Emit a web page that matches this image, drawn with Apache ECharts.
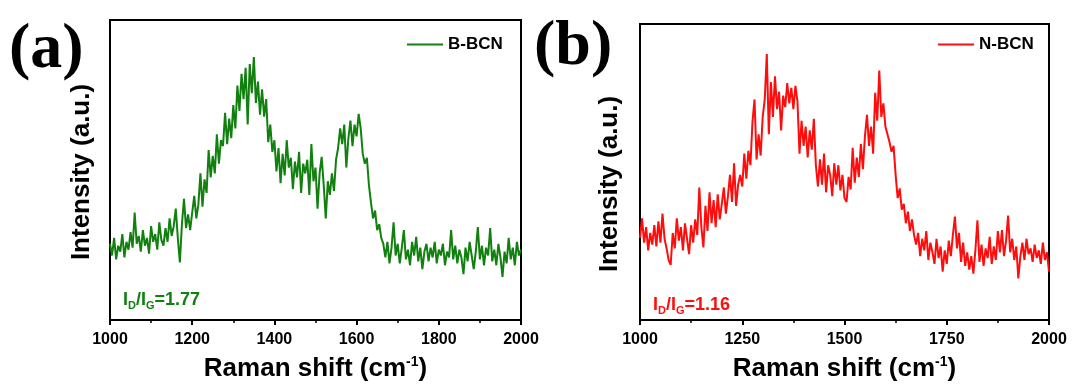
<!DOCTYPE html>
<html>
<head>
<meta charset="utf-8">
<script src="https://cdn.jsdelivr.net/npm/echarts@6/dist/echarts.min.js"></script>
<style>
html,body{margin:0;padding:0;background:#fff;}
#chart{width:1073px;height:387px;}
</style>
</head>
<body>
<div id="chart"></div>
<script>
// ---- data (Raman shift grid: 1000..2000 cm-1, 5 cm-1 step) ----
const shiftStart = 1000;
const shiftStep = 5;
const seriesNames = ['B-BCN', 'N-BCN'];
const panelLabels = ['(a)', '(b)'];
const ratioLabels = ['1.77', '1.16'];
const xMin = 1000, xMax = 2000;
const leftInterval = 200, rightInterval = 250;

// intensity (a.u.)
const bbcnIntensity = [
  78,66,84,62,76,70,88,64,80,72,
  90,74,110,78,86,70,92,76,84,68,
  96,80,88,72,100,82,76,94,80,104,
  86,96,114,84,59,98,124,94,108,92,
  110,127,104,118,150,116,144,130,174,146,
  168,150,190,160,184,178,212,180,206,186,
  220,196,240,214,252,226,258,200,262,232,
  269,222,244,210,236,208,226,182,200,172,
  184,152,176,140,170,148,184,156,166,134,
  162,146,172,130,160,150,164,128,180,142,
  156,114,150,167,138,104,142,128,150,132,
  164,176,196,180,200,156,186,204,178,200,
  188,211,196,170,160,166,138,120,104,112,
  92,98,84,78,64,80,58,74,100,66,
  78,58,74,92,62,72,56,80,66,85,
  60,74,52,70,78,60,74,64,80,58,
  72,66,78,56,70,64,92,62,76,58,
  72,64,47,74,60,80,66,52,70,95,
  62,76,56,74,66,94,60,72,56,78,
  64,44,70,58,84,62,74,56,80,66,
  72
];

// intensity (a.u.)
const nbcnIntensity = [
  85,105,80,96,72,90,78,98,76,102,
  80,110,84,74,62,57,90,74,105,82,
  96,72,100,84,68,98,80,104,88,137,
  96,75,118,92,132,100,124,96,130,104,
  120,137,110,128,150,122,162,118,140,150,
  138,172,146,175,160,205,228,166,192,170,
  210,228,275,192,246,210,252,218,236,196,
  232,220,245,224,240,218,242,226,172,206,
  180,200,168,196,176,208,160,138,166,140,
  172,132,160,150,128,162,140,160,134,150,
  126,122,148,135,178,142,168,148,182,156,
  190,212,180,200,172,235,206,258,210,224,
  200,192,184,174,180,150,126,136,114,120,
  100,112,92,104,88,78,90,66,84,72,
  92,62,80,70,58,84,64,76,50,72,
  58,82,66,88,107,74,90,60,80,56,
  70,52,66,48,72,103,60,78,56,74,
  64,86,58,76,62,92,70,93,66,82,
  108,70,84,62,76,43,66,80,62,84,
  68,74,60,78,64,72,58,80,62,70,
  50
];

function toPairs(vals) {
  return vals.map((v, i) => [shiftStart + i * shiftStep, v]);
}

const GREEN = '#11800f';
const RED = '#ff0d0d';
const SANS = '"Liberation Sans", Arial, Helvetica, sans-serif';
const SERIF = '"Liberation Serif", "Times New Roman", serif';

const chart = echarts.init(document.getElementById('chart'), null, {renderer: 'canvas'});

function xAxisFor(gridIndex, interval) {
  return {
    type: 'value', gridIndex: gridIndex, min: xMin, max: xMax, interval: interval,
    axisLine: {show: true, lineStyle: {color: '#000', width: 2}},
    axisTick: {show: true, inside: false, length: 5, lineStyle: {color: '#000', width: 2}},
    minorTick: {show: true, splitNumber: 2, length: 3, lineStyle: {color: '#000', width: 1.5}},
    splitLine: {show: false},
    axisLabel: {color: '#000', fontFamily: SANS, fontWeight: 'bold', fontSize: 16, margin: 12,
                formatter: function (v) { return String(v); }},
    name: '{m|Raman shift (cm}{s|-1}{m|)}',
    nameLocation: 'middle', nameGap: 35,
    nameTextStyle: {
      rich: {
        m: {fontFamily: SANS, fontWeight: 'bold', fontSize: 26, color: '#000', lineHeight: 28},
        s: {fontFamily: SANS, fontWeight: 'bold', fontSize: 14, color: '#000', verticalAlign: 'top', lineHeight: 28}
      }
    }
  };
}
function yAxisFor(gridIndex, max) {
  return {
    type: 'value', gridIndex: gridIndex, min: 0, max: max,
    axisLine: {show: false}, axisTick: {show: false}, axisLabel: {show: false}, splitLine: {show: false}
  };
}

function ratioText(x, y, val, color) {
  return {
    type: 'text', left: x, top: y, z: 10,
    style: {
      text: '{m|I}{s|D}{m|/I}{s|G}{m|=' + val + '}',
      fill: color,
      rich: {
        m: {fontFamily: SANS, fontWeight: 'bold', fontSize: 18, fill: color, color: color, lineHeight: 22},
        s: {fontFamily: SANS, fontWeight: 'bold', fontSize: 11, fill: color, color: color, verticalAlign: 'bottom', lineHeight: 22}
      }
    }
  };
}

const option = {
  backgroundColor: '#fff',
  animation: false,
  grid: [
    {left: 110, top: 20, width: 411, height: 307, show: true, borderColor: '#000', borderWidth: 2, backgroundColor: 'transparent'},
    {left: 640, top: 24, width: 409, height: 306, show: true, borderColor: '#000', borderWidth: 2, backgroundColor: 'transparent'}
  ],
  xAxis: [xAxisFor(0, leftInterval), xAxisFor(1, rightInterval)],
  yAxis: [yAxisFor(0, 307), yAxisFor(1, 306)],
  legend: [
    {data: [seriesNames[0]], left: 407, top: 36, padding: 0, icon: 'rect', itemWidth: 36, itemHeight: 2, itemGap: 5,
     textStyle: {fontFamily: SANS, fontWeight: 'bold', fontSize: 17, color: '#000'}},
    {data: [seriesNames[1]], left: 938, top: 36, padding: 0, icon: 'rect', itemWidth: 36, itemHeight: 2, itemGap: 5,
     textStyle: {fontFamily: SANS, fontWeight: 'bold', fontSize: 17, color: '#000'}}
  ],
  series: [
    {name: seriesNames[0], type: 'line', xAxisIndex: 0, yAxisIndex: 0, data: toPairs(bbcnIntensity),
     showSymbol: false, symbol: 'none', lineStyle: {color: GREEN, width: 2}, itemStyle: {color: GREEN}},
    {name: seriesNames[1], type: 'line', xAxisIndex: 1, yAxisIndex: 1, data: toPairs(nbcnIntensity),
     showSymbol: false, symbol: 'none', lineStyle: {color: RED, width: 2}, itemStyle: {color: RED}}
  ],
  graphic: [
    {type: 'text', left: 9, top: 18, style: {text: panelLabels[0], font: 'bold 64px ' + SERIF, fill: '#000'}},
    {type: 'text', left: 534, top: 15, style: {text: panelLabels[1], font: 'bold 64px ' + SERIF, fill: '#000'}},
    {type: 'text', x: 82, y: 172, rotation: Math.PI / 2,
     style: {text: 'Intensity (a.u.)', font: 'bold 26px ' + SANS, fill: '#000', textAlign: 'center', textVerticalAlign: 'middle'}},
    {type: 'text', x: 610, y: 184, rotation: Math.PI / 2,
     style: {text: 'Intensity (a.u.)', font: 'bold 26px ' + SANS, fill: '#000', textAlign: 'center', textVerticalAlign: 'middle'}},
    ratioText(123, 291, ratioLabels[0], GREEN),
    ratioText(653, 296, ratioLabels[1], RED)
  ]
};
chart.setOption(option);
</script>
</body>
</html>
